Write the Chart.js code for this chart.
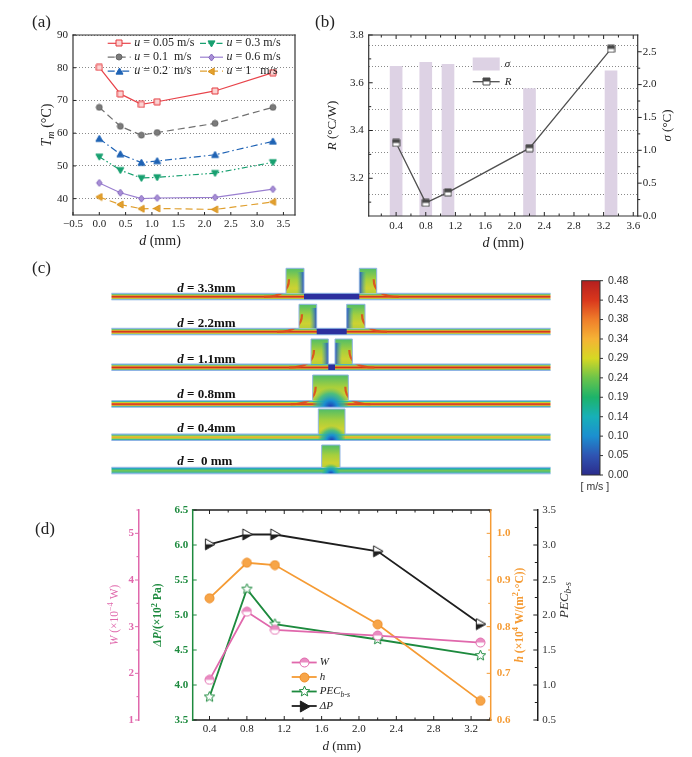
<!DOCTYPE html>
<html lang="en">
<head>
<meta charset="UTF-8">
<title>Fin spacing study</title>
<script src="https://cdn.jsdelivr.net/npm/chart.js"></script>
<style>
  body { margin: 0; background: #fff; }
  #page { position: relative; width: 692px; height: 757px; overflow: hidden; font-family: "Liberation Serif", serif; }
  #page canvas { position: absolute; }
  .tag { position: absolute; font-size: 17px; color: #222; line-height: 20px; }
</style>
</head>
<body>
<div id="page">
  <canvas id="chartA" width="346" height="252" style="left:0;top:0"></canvas>
  <canvas id="chartB" width="374" height="252" style="left:318px;top:0"></canvas>
  <canvas id="fieldC" width="692" height="240" style="left:0;top:255px"></canvas>
  <canvas id="chartD" width="692" height="261" style="left:0;top:496px"></canvas>
  <div class="tag" style="left:32px;top:12px">(a)</div>
  <div class="tag" style="left:315px;top:12px">(b)</div>
  <div class="tag" style="left:32px;top:258px">(c)</div>
  <div class="tag" style="left:35px;top:519px">(d)</div>
</div>

<script>
// ---- panel (a): mean temperature vs fin spacing, one line per inlet speed
const dA = [0, 0.4, 0.8, 1.1, 2.2, 3.3];
const tm005 = [80.1, 72.0, 68.8, 69.6, 72.9, 78.5];
const tm01 = [67.9, 62.1, 59.4, 60.2, 63.0, 67.9];
const tm02 = [58.3, 53.6, 51.0, 51.5, 53.4, 57.5];
const tm03 = [52.8, 48.7, 46.3, 46.5, 47.8, 51.1];
const tm06 = [44.8, 41.8, 40.0, 40.2, 40.4, 42.9];
const tm1 = [40.5, 38.2, 36.9, 37.0, 36.7, 39.0];
const ticksAx = [-0.5, 0, 0.5, 1, 1.5, 2, 2.5, 3, 3.5];
const ticksAy = [40, 50, 60, 70, 80, 90];

// ---- panel (b): thermal resistance R and temperature deviation sigma
const dB = [0.4, 0.8, 1.1, 2.2, 3.3];
const resist = [3.348, 3.097, 3.141, 3.326, 3.742];
const sigma = [2.28, 2.34, 2.31, 1.94, 2.21];
const ticksBx = [0.2, 0.4, 0.6, 0.8, 1.0, 1.2, 1.4, 1.6, 1.8, 2.0, 2.2, 2.4, 2.6, 2.8, 3.0, 3.2, 3.4, 3.6];
const majorBx = [0.4, 0.8, 1.2, 1.6, 2.0, 2.4, 2.8, 3.2, 3.6];
const ticksBr = [3.1, 3.2, 3.3, 3.4, 3.5, 3.6, 3.7, 3.8];
const majorBr = [3.2, 3.4, 3.6, 3.8];
const ticksBs = [0, 0.25, 0.5, 0.75, 1, 1.25, 1.5, 1.75, 2, 2.25, 2.5];
const majorBs = [0, 0.5, 1, 1.5, 2, 2.5];
const gridBg = [1, 2, 3, 4, 5, 6, 7, 8];

// ---- panel (c): velocity field cases and colour bar
const caseLabels = ['3.3mm', '2.2mm', '1.1mm', '0.8mm', '0.4mm', ' 0 mm'];
const barTicks = ['0.48', '0.43', '0.38', '0.34', '0.29', '0.24', '0.19', '0.14', '0.10', '0.05', '0.00'];

// ---- panel (d): pump power W, h, PEC and pressure drop
const dD = [0.4, 0.8, 1.1, 2.2, 3.3];
const pumpW = [1.86, 3.32, 2.93, 2.81, 2.66];
const heatH = [0.861, 0.937, 0.932, 0.805, 0.641];
const pecBS = [3.83, 5.37, 4.87, 4.65, 4.42];   // green stars, read on the green axis
const dropP = [3.01, 3.15, 3.15, 2.91, 1.87];   // black triangles, read on the black axis
const ticksDx = [0.4, 0.6, 0.8, 1.0, 1.2, 1.4, 1.6, 1.8, 2.0, 2.2, 2.4, 2.6, 2.8, 3.0, 3.2, 3.4];
const majorDx = [0.4, 0.8, 1.2, 1.6, 2.0, 2.4, 2.8, 3.2];
const ticksDw = [1, 1.5, 2, 2.5, 3, 3.5, 4, 4.5, 5, 5.5];
const majorDw = [1, 2, 3, 4, 5];
const ticksDp = [3.5, 4, 4.5, 5, 5.5, 6, 6.5];
const ticksDh = [0.6, 0.65, 0.7, 0.75, 0.8, 0.85, 0.9, 0.95, 1.0, 1.05];
const majorDh = [0.6, 0.7, 0.8, 0.9, 1.0];
const ticksDe = [0.5, 0.75, 1, 1.25, 1.5, 1.75, 2, 2.25, 2.5, 2.75, 3, 3.25, 3.5];
const majorDe = [0.5, 1, 1.5, 2, 2.5, 3, 3.5];

const SERIF = '"Liberation Serif", "Times New Roman", serif';
const SANS = '"Liberation Sans", Arial, sans-serif';
Chart.defaults.font.family = SERIF;
Chart.defaults.color = '#222';

const pts = (xs, ys) => xs.map((x, i) => ({x: x, y: ys[i]}));
const fixedTicks = (vals) => (s) => { s.ticks = vals.map(v => ({value: v})); };
const fmt1 = (v) => v.toFixed(1).replace('-', '\u2212');
const onlyMajor = (majors, f) => (v) => majors.includes(v) ? f(v) : '';
const noGrid = {display: false, drawTicks: false};

// text with italic / bold / sub / superscript parts: flags i b s(ub) p(super)
function partFont(f, size) {
  const small = f.includes('s') || f.includes('p');
  return (f.includes('i') ? 'italic ' : '') + (f.includes('b') ? 'bold ' : '') +
    (small ? size * 0.72 : size).toFixed(1) + 'px ' + SERIF;
}
function drawRich(ctx, parts, x, y, size, color, vertical, anchor) {
  ctx.save();
  ctx.translate(x, y);
  if (vertical) ctx.rotate(-Math.PI / 2);
  let w = 0;
  parts.forEach(([t, f = '']) => { ctx.font = partFont(f, size); w += ctx.measureText(t).width; });
  let cx = anchor === 'left' ? 0 : -w / 2;
  ctx.fillStyle = color;
  ctx.textBaseline = 'middle';
  ctx.textAlign = 'left';
  parts.forEach(([t, f = '']) => {
    ctx.font = partFont(f, size);
    const dy = f.includes('s') ? size * 0.3 : f.includes('p') ? -size * 0.33 : 0;
    ctx.fillText(t, cx, dy);
    cx += ctx.measureText(t).width;
  });
  ctx.restore();
}

// markers as small canvases, used as pointStyle
function shapePath(g, kind, r) {
  g.beginPath();
  if (kind === 'square') g.rect(-r, -r, 2 * r, 2 * r);
  else if (kind === 'circle') g.arc(0, 0, r, 0, Math.PI * 2);
  else if (kind === 'up') { g.moveTo(0, -r); g.lineTo(r, r * 0.75); g.lineTo(-r, r * 0.75); }
  else if (kind === 'down') { g.moveTo(0, r); g.lineTo(r, -r * 0.75); g.lineTo(-r, -r * 0.75); }
  else if (kind === 'left') { g.moveTo(-r, 0); g.lineTo(r * 0.75, -r); g.lineTo(r * 0.75, r); }
  else if (kind === 'right') { g.moveTo(r, 0); g.lineTo(-r * 0.75, -r); g.lineTo(-r * 0.75, r); }
  else if (kind === 'diamond') { g.moveTo(0, -r); g.lineTo(r * 0.8, 0); g.lineTo(0, r); g.lineTo(-r * 0.8, 0); }
  else if (kind === 'star') {
    for (let k = 0; k < 10; k++) {
      const a = -Math.PI / 2 + k * Math.PI / 5, rr = k % 2 ? r * 0.45 : r;
      k ? g.lineTo(rr * Math.cos(a), rr * Math.sin(a)) : g.moveTo(rr * Math.cos(a), rr * Math.sin(a));
    }
  }
  g.closePath();
}
function makeMarker(kind, size, stroke, fill, half, halfTop) {
  const c = document.createElement('canvas');
  c.width = c.height = size;
  const g = c.getContext('2d');
  const r = size / 2 - 1;
  g.translate(size / 2, size / 2);
  shapePath(g, kind, r);
  g.fillStyle = fill;
  g.fill();
  if (half) {
    g.save();
    shapePath(g, kind, r);
    g.clip();
    g.fillStyle = half;
    g.fillRect(-r - 1, halfTop ? -r - 1 : 0, 2 * r + 2, r + 1);
    g.restore();
  }
  shapePath(g, kind, r);
  g.lineWidth = 1;
  g.strokeStyle = stroke;
  g.stroke();
  return c;
}

function framePlugin(cfg) {
  return {
    id: 'frame',
    afterDraw(chart) {
      const {ctx, chartArea: a} = chart;
      const edges = {
        top: [a.left, a.top, a.right, a.top], bottom: [a.left, a.bottom, a.right, a.bottom],
        left: [a.left, a.top, a.left, a.bottom], right: [a.right, a.top, a.right, a.bottom]
      };
      ctx.save();
      ctx.setLineDash([]);
      ctx.lineWidth = 1;
      cfg.ticks.forEach(t => {
        const s = chart.scales[t.scale];
        ctx.strokeStyle = t.color || '#222';
        s.ticks.forEach(tk => {
          const len = (tk.label === '' ? t.minor : t.len) * t.dir;
          const p = s.getPixelForValue(tk.value);
          ctx.beginPath();
          if (s.isHorizontal()) {
            const top = t.side ? t.side === 'top' : s.position === 'top';
            const base = t.side ? (top ? a.top : a.bottom) : (top ? s.bottom : s.top);
            ctx.moveTo(p, base); ctx.lineTo(p, base + (top ? len : -len));
          } else {
            const left = t.side ? t.side === 'left' : s.position === 'left';
            const base = t.side ? (left ? a.left : a.right) : (left ? s.right : s.left);
            ctx.moveTo(base, p); ctx.lineTo(base + (left ? len : -len), p);
          }
          ctx.stroke();
        });
      });
      ctx.lineWidth = cfg.width;
      ctx.lineCap = 'square';
      for (const side in cfg.sides) {
        const e = edges[side];
        ctx.strokeStyle = cfg.sides[side];
        ctx.beginPath(); ctx.moveTo(e[0], e[1]); ctx.lineTo(e[2], e[3]); ctx.stroke();
      }
      ctx.restore();
    }
  };
}

function titlesPlugin(items) {
  return {
    id: 'axisTitles',
    afterDraw(chart) {
      items.forEach(it => {
        const s = chart.scales[it.scale];
        if (s.isHorizontal()) {
          drawRich(chart.ctx, it.parts, (s.left + s.right) / 2 + (it.dx || 0), s.top + it.gap, it.size, it.color, false);
        } else {
          const line = s.position === 'left' ? s.right : s.left;
          const x = s.position === 'left' ? line - it.gap : line + it.gap;
          drawRich(chart.ctx, it.parts, x, (s.top + s.bottom) / 2 + (it.dy || 0), it.size, it.color, true);
        }
      });
    }
  };
}

function legendPlugin(cfg) {
  return {
    id: 'innerLegend',
    afterDraw(chart) {
      const {ctx, chartArea: a} = chart;
      cfg.items.forEach((it, k) => {
        const x = a.left + cfg.x + (k % cfg.cols) * (cfg.colW || 0);
        const y = a.top + cfg.y + Math.floor(k / cfg.cols) * cfg.rowH;
        const ds = chart.data.datasets[it.dataset];
        ctx.save();
        if (ds.type === 'bar') {
          ctx.fillStyle = ds.backgroundColor;
          ctx.fillRect(x, y - cfg.boxH / 2, cfg.lineLen, cfg.boxH);
        } else {
          ctx.strokeStyle = ds.borderColor;
          ctx.lineWidth = ds.borderWidth;
          ctx.setLineDash(ds.borderDash || []);
          ctx.beginPath(); ctx.moveTo(x, y); ctx.lineTo(x + cfg.lineLen, y); ctx.stroke();
          const m = it.marker || ds.pointStyle;
          ctx.drawImage(m, Math.round(x + cfg.lineLen / 2 - m.width / 2), Math.round(y - m.height / 2));
        }
        ctx.restore();
        drawRich(ctx, it.parts, x + cfg.lineLen + cfg.gap, y, cfg.size, '#222', false, 'left');
      });
    }
  };
}

// ================= (a) =================
const seriesA = [
  {ys: tm005, u: '0.05 m/s', color: '#e8434a', dash: [], mk: makeMarker('square', 8, '#e53a3f', '#fbd3d3')},
  {ys: tm03, u: '0.3 m/s', color: '#18a070', dash: [6, 2.5, 1.5, 2.5, 1.5, 2.5], mk: makeMarker('down', 9, '#18a070', '#18a070')},
  {ys: tm01, u: '0.1  m/s', color: '#707070', dash: [7, 4], mk: makeMarker('circle', 8, '#666', '#7b7b7b')},
  {ys: tm06, u: '0.6 m/s', color: '#9a7fd0', dash: [], mk: makeMarker('diamond', 9, '#8468bd', '#a88fd6')},
  {ys: tm02, u: '0.2  m/s', color: '#1f63b5', dash: [7, 3, 1.5, 3], mk: makeMarker('up', 9, '#1f63b5', '#1f63b5')},
  {ys: tm1, u: '1   m/s', color: '#e0a030', dash: [7, 4], mk: makeMarker('left', 9, '#d8921c', '#e3a12f')}
];

new Chart(document.getElementById('chartA'), {
  type: 'line',
  data: {
    datasets: seriesA.map(s => ({
      data: pts(dA, s.ys), borderColor: s.color, borderWidth: 1.2, borderDash: s.dash,
      pointStyle: s.mk, pointRadius: 4, clip: false
    }))
  },
  options: {
    responsive: false,
    animation: false,
    layout: {padding: {left: 33, right: 51, top: 35, bottom: 9}},
    plugins: {legend: {display: false}, tooltip: {enabled: false}},
    scales: {
      x: {
        type: 'linear', min: -0.5, max: 3.72,
        afterBuildTicks: fixedTicks(ticksAx), afterFit: (s) => { s.height = 28; },
        grid: noGrid, border: {display: false},
        ticks: {padding: 3, font: {size: 11}, maxRotation: 0, autoSkip: false, callback: fmt1}
      },
      y: {
        min: 35, max: 90,
        afterBuildTicks: fixedTicks(ticksAy), afterFit: (s) => { s.width = 40; },
        grid: {color: '#8a8a8a', lineWidth: 1, drawTicks: false},
        border: {display: false, dash: [1, 2]},
        ticks: {padding: 5, font: {size: 11}, autoSkip: false}
      }
    }
  },
  plugins: [
    framePlugin({width: 1.2, sides: {top: '#333', right: '#333', bottom: '#333', left: '#333'},
      ticks: [{scale: 'x', dir: 1, len: 3, minor: 2}, {scale: 'y', dir: 1, len: 3, minor: 2}]}),
    titlesPlugin([
      {scale: 'y', parts: [['T', 'i'], ['m', 'is'], [' (\u00b0C)']], gap: 26, size: 14, color: '#222'},
      {scale: 'x', parts: [['d', 'i'], [' (mm)']], gap: 26, dx: -24, size: 14, color: '#222'}
    ]),
    legendPlugin({x: 34.7, y: 8.3, cols: 2, colW: 92.3, rowH: 13.9, lineLen: 23, gap: 3.5, size: 12,
      items: seriesA.map((s, k) => ({dataset: k, parts: [['u', 'i'], [' = ' + s.u]]}))})
  ]
});

// ================= (b) =================
const markR = makeMarker('square', 9, '#4a4a4a', '#fff', '#4a4a4a', true);

new Chart(document.getElementById('chartB'), {
  type: 'bar',
  data: {
    datasets: [
      {type: 'bar', data: pts(dB, sigma), yAxisID: 'yS', backgroundColor: '#ddd2e4', barThickness: 12, order: 2},
      {type: 'line', data: pts(dB, resist), yAxisID: 'yR', borderColor: '#505050', borderWidth: 1.3,
        pointStyle: markR, pointRadius: 5, order: 1, clip: false}
    ]
  },
  options: {
    responsive: false,
    animation: false,
    layout: {padding: {left: 10.7, right: 14.3, top: 35, bottom: 2}},
    plugins: {legend: {display: false}, tooltip: {enabled: false}},
    scales: {
      x: {
        type: 'linear', offset: false, min: 0.03, max: 3.66,
        afterBuildTicks: fixedTicks(ticksBx), afterFit: (s) => { s.height = 34; },
        grid: noGrid, border: {display: false},
        ticks: {padding: 4, font: {size: 11}, maxRotation: 0, autoSkip: false, callback: onlyMajor(majorBx, fmt1)}
      },
      yR: {
        position: 'left', weight: 1, min: 3.042, max: 3.8,
        afterBuildTicks: fixedTicks(ticksBr), afterFit: (s) => { s.width = 40; },
        grid: noGrid, border: {display: false},
        ticks: {padding: 5, font: {size: 11}, autoSkip: false, callback: onlyMajor(majorBr, fmt1)}
      },
      g: {
        position: 'left', weight: 0, min: 0, max: 8.5,
        afterBuildTicks: fixedTicks(gridBg), afterFit: (s) => { s.width = 0; },
        grid: {color: '#8a8a8a', lineWidth: 1, drawTicks: false},
        border: {display: false, dash: [1, 2]},
        ticks: {display: false}
      },
      yS: {
        position: 'right', min: 0, max: 2.755,
        afterBuildTicks: fixedTicks(ticksBs), afterFit: (s) => { s.width = 40; },
        grid: noGrid, border: {display: false},
        ticks: {padding: 5, font: {size: 11}, autoSkip: false, callback: onlyMajor(majorBs, fmt1)}
      }
    }
  },
  plugins: [
    framePlugin({width: 1.2, sides: {top: '#333', right: '#333', bottom: '#333', left: '#333'},
      ticks: [
        {scale: 'x', dir: 1, len: 4, minor: 2.5}, {scale: 'x', side: 'top', dir: 1, len: 4, minor: 2.5},
        {scale: 'yR', dir: 1, len: 4, minor: 2.5}, {scale: 'yS', dir: -1, len: 4, minor: 2.5}
      ]}),
    titlesPlugin([
      {scale: 'yR', parts: [['R', 'i'], [' (\u00b0C/W)']], gap: 35.7, size: 13, color: '#222'},
      {scale: 'yS', parts: [['\u03c3', 'i'], [' (\u00b0C)']], gap: 30, size: 13, color: '#222'},
      {scale: 'x', parts: [['d', 'i'], [' (mm)']], gap: 27, size: 14, color: '#222'}
    ]),
    legendPlugin({x: 104, y: 29, cols: 1, rowH: 17.7, lineLen: 27, boxH: 13, gap: 5, size: 11,
      items: [{dataset: 0, parts: [['\u03c3', 'i']]}, {dataset: 1, parts: [['R', 'i']]}]})
  ]
});

// ================= (c) velocity contours (illustration) =================
const jet = [[0, '#2b2c8c'], [0.1, '#2f54b2'], [0.2, '#1c8fd0'], [0.3, '#17b0b8'], [0.4, '#1db36a'],
  [0.5, '#6cc44a'], [0.6, '#d6d824'], [0.7, '#f5b335'], [0.8, '#ef7e2a'], [0.9, '#d9371c'], [1, '#b51f1f']];
const flowStops = {
  hot: [[0, '#86b8e6'], [0.12, '#2fb3a0'], [0.28, '#c9d12e'], [0.42, '#e8602a'], [0.52, '#c92a1c'],
    [0.62, '#e4552a'], [0.78, '#d6c930'], [0.9, '#2fb3a0'], [1, '#86b8e6']],
  warm: [[0, '#86b8e6'], [0.15, '#3ab89a'], [0.35, '#c8d030'], [0.5, '#f0a535'], [0.65, '#c8d030'],
    [0.85, '#3ab89a'], [1, '#86b8e6']],
  cool: [[0, '#86b8e6'], [0.2, '#20a8b8'], [0.4, '#4cbf70'], [0.55, '#84c84a'], [0.72, '#3cb88a'], [1, '#86b8e6']]
};
// geometry of each case, in pixels of the field canvas
const fieldRows = [
  {flow: 'hot', y: 38.3, top: 13.3, ly: 33.3, fins: [[286, 304], [359.3, 376.7]]},
  {flow: 'hot', y: 73.3, top: 49.3, ly: 68.3, fins: [[299, 316.7], [346.7, 365]]},
  {flow: 'hot', y: 109, top: 84, ly: 104.3, fins: [[311, 328.3], [335, 352.3]]},
  {flow: 'hot', y: 145.7, top: 120, ly: 140, fins: [[312.7, 348.3]]},
  {flow: 'warm', y: 179, top: 154, ly: 173.3, fins: [[318.3, 345]]},
  {flow: 'cool', y: 212.3, top: 190, ly: 206.7, fins: [[321.7, 340]]}
];

function drawField() {
  const g = document.getElementById('fieldC').getContext('2d');
  const cx0 = 111.5, cx1 = 550.5, ch = 6.5;
  fieldRows.forEach((row, r) => {
    const y = row.y;
    const lg = g.createLinearGradient(0, y, 0, y + ch);
    flowStops[row.flow].forEach(([o, c]) => lg.addColorStop(o, c));
    g.fillStyle = lg;
    g.fillRect(cx0, y, cx1 - cx0, ch);

    row.fins.forEach(([x0, x1], k) => {
      const fg = g.createLinearGradient(0, row.top, 0, y);
      fg.addColorStop(0, '#4fbd68'); fg.addColorStop(0.45, '#a5cf3d');
      fg.addColorStop(0.8, '#cdd232'); fg.addColorStop(1, '#b9cf38');
      g.fillStyle = fg;
      g.fillRect(x0, row.top, x1 - x0, y - row.top);
      if (row.fins.length === 2) {
        // slow strip on the wall facing the gap
        const wall = k === 0 ? x1 : x0;
        const hg = g.createLinearGradient(wall, 0, k === 0 ? wall - 7 : wall + 7, 0);
        hg.addColorStop(0, 'rgba(35,70,200,0.95)'); hg.addColorStop(1, 'rgba(40,170,200,0)');
        g.fillStyle = hg;
        const h0 = row.top + (y - row.top) * 0.15;
        g.fillRect(k === 0 ? wall - 7 : wall, h0, 7, y - h0);
      } else {
        const w = x1 - x0, mx = (x0 + x1) / 2;
        const rg = g.createRadialGradient(mx, y + ch, 0, mx, y + ch, w * 0.55);
        rg.addColorStop(0, '#1f35b0'); rg.addColorStop(0.35, '#1a8fd0');
        rg.addColorStop(0.7, 'rgba(47,184,144,0.8)'); rg.addColorStop(1, 'rgba(80,190,100,0)');
        g.fillStyle = rg;
        g.fillRect(x0, y + ch - w * 0.55, w, w * 0.55);
      }
    });
    if (row.fins.length === 2) {
      const a = row.fins[0][1], b = row.fins[1][0];
      g.fillStyle = '#2b2f9e';
      g.fillRect(a, y, b - a, ch);
    }
    // fast core turning up along the outer fin walls, kept inside the fluid
    if (row.flow === 'hot') {
      const first = row.fins[0], last = row.fins[row.fins.length - 1];
      g.save();
      g.beginPath();
      g.rect(cx0, y, cx1 - cx0, ch);
      row.fins.forEach(([x0, x1]) => g.rect(x0, row.top, x1 - x0, y - row.top));
      g.clip();
      g.strokeStyle = 'rgba(222,75,28,0.9)';
      g.lineWidth = 2.2;
      g.beginPath();
      g.moveTo(first[0] - 22, y + 3.5); g.quadraticCurveTo(first[0] + 3, y + 3.5, first[0] + 3, y - 14);
      g.moveTo(last[1] + 22, y + 3.5); g.quadraticCurveTo(last[1] - 3, y + 3.5, last[1] - 3, y - 14);
      g.stroke();
      g.restore();
    }
    // outline
    g.strokeStyle = '#8fb4e4';
    g.lineWidth = 1;
    g.beginPath();
    g.moveTo(cx0, y + ch); g.lineTo(cx1, y + ch);
    let px = cx0;
    row.fins.forEach(([x0, x1]) => {
      g.moveTo(px, y); g.lineTo(x0, y); g.lineTo(x0, row.top); g.lineTo(x1, row.top); g.lineTo(x1, y);
      px = x1;
    });
    g.lineTo(cx1, y);
    g.stroke();
    drawRich(g, [['d', 'ib'], [' = ' + caseLabels[r], 'b']], 177.3, row.ly, 13, '#111', false, 'left');
  });

  // colour bar
  const bx = 581.7, bw = 18.3, by0 = 25.7, by1 = 220;
  const cg = g.createLinearGradient(0, by1, 0, by0);
  jet.forEach(([o, c]) => cg.addColorStop(o, c));
  g.fillStyle = cg;
  g.fillRect(bx, by0, bw, by1 - by0);
  g.strokeStyle = '#333';
  g.lineWidth = 1;
  g.strokeRect(bx, by0, bw, by1 - by0);
  g.font = '10.5px ' + SANS;
  g.fillStyle = '#333';
  g.textBaseline = 'middle';
  g.textAlign = 'left';
  barTicks.forEach((t, i) => {
    const ty = by0 + (by1 - by0) * i / (barTicks.length - 1);
    g.beginPath(); g.moveTo(bx + bw, ty); g.lineTo(bx + bw + 3, ty); g.stroke();
    g.fillText(t, bx + bw + 8, ty);
  });
  g.textAlign = 'center';
  g.fillText('[ m/s ]', bx + bw / 2 + 4, 231.7);
}
drawField();

// ================= (d) =================
const PINK = '#e068ac', GREEN = '#1d8a3e', ORANGE = '#f59b34', BLACK = '#1e1e1e';
const markW = makeMarker('circle', 11, PINK, '#fff', '#e98cc2', true);
const markH = makeMarker('circle', 11, '#ee8c25', '#f7a548');
const markPEC = makeMarker('star', 13, GREEN, '#fff');
const markP = makeMarker('right', 13, BLACK, '#fff', BLACK, false);
const markPFull = makeMarker('right', 13, BLACK, BLACK);

new Chart(document.getElementById('chartD'), {
  type: 'line',
  data: {
    datasets: [
      {data: pts(dD, pumpW), yAxisID: 'yW', borderColor: PINK, borderWidth: 1.8, pointStyle: markW, pointRadius: 5, clip: false},
      {data: pts(dD, heatH), yAxisID: 'yH', borderColor: ORANGE, borderWidth: 1.8, pointStyle: markH, pointRadius: 5, clip: false},
      {data: pts(dD, pecBS), yAxisID: 'yP', borderColor: GREEN, borderWidth: 1.8, pointStyle: markPEC, pointRadius: 6, clip: false},
      {data: pts(dD, dropP), yAxisID: 'yE', borderColor: BLACK, borderWidth: 1.8, pointStyle: markP, pointRadius: 6, clip: false}
    ]
  },
  options: {
    responsive: false,
    animation: false,
    layout: {padding: {left: 94, right: 114.7, top: 14, bottom: 3}},
    plugins: {legend: {display: false}, tooltip: {enabled: false}},
    scales: {
      x: {
        type: 'linear', min: 0.22, max: 3.41,
        afterBuildTicks: fixedTicks(ticksDx), afterFit: (s) => { s.height = 34; },
        grid: noGrid, border: {display: false},
        ticks: {padding: 3, font: {size: 11}, maxRotation: 0, autoSkip: false, callback: onlyMajor(majorDx, fmt1)}
      },
      yW: {
        position: 'left', weight: 1, min: 1, max: 5.5,
        afterBuildTicks: fixedTicks(ticksDw), afterFit: (s) => { s.width = 45; },
        grid: noGrid, border: {display: true, color: PINK, width: 1.5},
        ticks: {padding: 5, color: PINK, font: {size: 11, weight: 'bold'}, autoSkip: false, callback: onlyMajor(majorDw, String)}
      },
      yP: {
        position: 'left', weight: 0, min: 3.5, max: 6.5,
        afterBuildTicks: fixedTicks(ticksDp), afterFit: (s) => { s.width = 53.7; },
        grid: noGrid, border: {display: false},
        ticks: {padding: 4.5, color: GREEN, font: {size: 11, weight: 'bold'}, autoSkip: false, callback: fmt1}
      },
      yH: {
        position: 'right', weight: 0, min: 0.6, max: 1.05,
        afterBuildTicks: fixedTicks(ticksDh), afterFit: (s) => { s.width = 46.6; },
        grid: noGrid, border: {display: false},
        ticks: {padding: 6, color: ORANGE, font: {size: 11, weight: 'bold'}, autoSkip: false, callback: onlyMajor(majorDh, fmt1)}
      },
      yE: {
        position: 'right', weight: 1, min: 0.5, max: 3.5,
        afterBuildTicks: fixedTicks(ticksDe), afterFit: (s) => { s.width = 40; },
        grid: noGrid, border: {display: true, color: BLACK, width: 1.5},
        ticks: {padding: 5, color: '#333', font: {size: 11}, autoSkip: false, callback: onlyMajor(majorDe, fmt1)}
      }
    }
  },
  plugins: [
    framePlugin({width: 1.5, sides: {top: BLACK, bottom: BLACK, left: GREEN, right: ORANGE},
      ticks: [
        {scale: 'x', dir: 1, len: 4, minor: 2.5}, {scale: 'x', side: 'top', dir: 1, len: 4, minor: 2.5},
        {scale: 'yW', dir: -1, len: 4, minor: 2.5, color: PINK}, {scale: 'yP', dir: 1, len: 4, minor: 2.5, color: GREEN},
        {scale: 'yH', dir: 1, len: 4, minor: 2.5, color: ORANGE}, {scale: 'yE', dir: 1, len: 4, minor: 2.5, color: BLACK}
      ]}),
    titlesPlugin([
      {scale: 'yW', parts: [['W', 'i'], [' (\u00d710'], ['\u22124', 'p'], [' W)']], gap: 24, size: 11.5, color: PINK},
      {scale: 'yP', parts: [['\u0394P', 'ib'], ['/(\u00d710', 'b'], ['2', 'pb'], [' Pa)', 'b']], gap: 34.4, size: 11.5, color: GREEN},
      {scale: 'yH', parts: [['h', 'ib'], [' (\u00d710', 'b'], ['4', 'pb'], [' W/(m', 'b'], ['2', 'pb'], ['\u00b7\u00b0C))', 'b']],
        gap: 29.3, size: 11.5, color: ORANGE},
      {scale: 'yE', parts: [['PEC', 'i'], ['b-s', 'is']], gap: 27.7, dy: -15, size: 13, color: '#333'},
      {scale: 'x', parts: [['d', 'i'], [' (mm)']], gap: 26.7, size: 13, color: '#222'}
    ]),
    legendPlugin({x: 99, y: 152.5, cols: 1, rowH: 14.5, lineLen: 25, gap: 3, size: 11,
      items: [
        {dataset: 0, parts: [['W', 'i']]},
        {dataset: 1, parts: [['h', 'i']]},
        {dataset: 2, parts: [['PEC', 'i'], ['b-s', 'is']]},
        {dataset: 3, parts: [['\u0394P', 'i']], marker: markPFull}
      ]})
  ]
});
</script>
</body>
</html>
